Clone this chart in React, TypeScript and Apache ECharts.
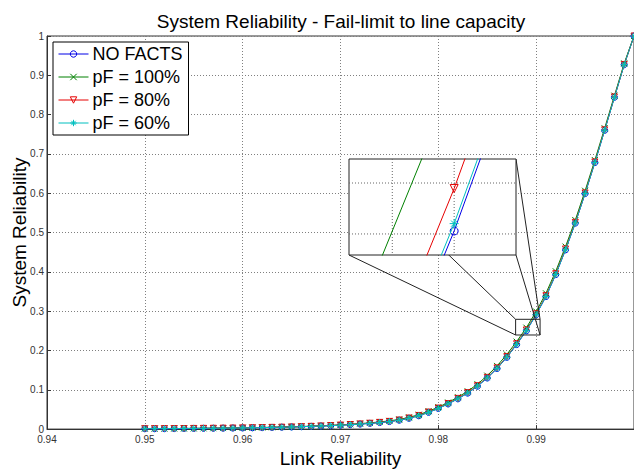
import React, { useEffect, useRef } from "react";
import * as echarts from "echarts";

// ---------------- data ----------------
const LINK_RELIABILITY = [
  0.95, 0.951, 0.952, 0.953, 0.954, 0.955, 0.956, 0.957, 0.958, 0.959,
  0.96, 0.961, 0.962, 0.963, 0.964, 0.965, 0.966, 0.967, 0.968, 0.969,
  0.97, 0.971, 0.972, 0.973, 0.974, 0.975, 0.976, 0.977, 0.978, 0.979,
  0.98, 0.981, 0.982, 0.983, 0.984, 0.985, 0.986, 0.987, 0.988, 0.989,
  0.99, 0.991, 0.992, 0.993, 0.994, 0.995, 0.996, 0.997, 0.998, 0.999,
  1.0,
];

const NO_FACTS = [
  0.0010, 0.0011, 0.0012, 0.0013, 0.0015, 0.0017, 0.0019, 0.0021, 0.0024, 0.0027,
  0.0030, 0.0034, 0.0038, 0.0043, 0.0048, 0.0054, 0.0061, 0.0069, 0.0078, 0.0088,
  0.0100, 0.0113, 0.0128, 0.0146, 0.0167, 0.0192, 0.0226, 0.0275, 0.0340, 0.0425,
  0.0525, 0.0640, 0.0770, 0.0915, 0.1090, 0.1300, 0.1540, 0.1825, 0.2150, 0.2500,
  0.2909, 0.3370, 0.3930, 0.4560, 0.5240, 0.5990, 0.6780, 0.7600, 0.8440, 0.9270,
  1.0000,
];

const PF_100 = [
  0.0011, 0.0012, 0.0013, 0.0014, 0.0016, 0.0018, 0.0020, 0.0023, 0.0026, 0.0029,
  0.0033, 0.0037, 0.0041, 0.0047, 0.0052, 0.0059, 0.0066, 0.0075, 0.0085, 0.0096,
  0.0109, 0.0123, 0.0140, 0.0159, 0.0182, 0.0209, 0.0246, 0.0298, 0.0366, 0.0455,
  0.0558, 0.0677, 0.0812, 0.0963, 0.1143, 0.1360, 0.1607, 0.1898, 0.2225, 0.2581,
  0.2991, 0.3455, 0.4015, 0.4643, 0.5318, 0.6063, 0.6843, 0.7653, 0.8483, 0.9303,
  1.0000,
];

const PF_80 = [
  0.0010, 0.0011, 0.0012, 0.0013, 0.0015, 0.0017, 0.0019, 0.0021, 0.0024, 0.0027,
  0.0031, 0.0035, 0.0039, 0.0044, 0.0049, 0.0055, 0.0062, 0.0070, 0.0080, 0.0090,
  0.0102, 0.0116, 0.0131, 0.0149, 0.0171, 0.0196, 0.0231, 0.0281, 0.0347, 0.0433,
  0.0534, 0.0650, 0.0781, 0.0928, 0.1104, 0.1316, 0.1557, 0.1844, 0.2171, 0.2522,
  0.2932, 0.3393, 0.3953, 0.4582, 0.5260, 0.6008, 0.6796, 0.7613, 0.8450, 0.9276,
  1.0000,
];

const PF_60 = [
  0.0010, 0.0011, 0.0012, 0.0013, 0.0015, 0.0017, 0.0019, 0.0021, 0.0024, 0.0027,
  0.0030, 0.0034, 0.0038, 0.0043, 0.0048, 0.0054, 0.0061, 0.0069, 0.0078, 0.0088,
  0.0100, 0.0113, 0.0128, 0.0146, 0.0167, 0.0193, 0.0227, 0.0276, 0.0341, 0.0426,
  0.0527, 0.0642, 0.0772, 0.0918, 0.1093, 0.1303, 0.1544, 0.1829, 0.2154, 0.2504,
  0.2913, 0.3374, 0.3934, 0.4564, 0.5244, 0.5993, 0.6783, 0.7602, 0.8442, 0.9271,
  1.0000,
];

const SERIES_NAMES = ["NO FACTS", "pF = 100%", "pF = 80%", "pF = 60%"];
const SERIES_VALUES = [NO_FACTS, PF_100, PF_80, PF_60];

const TITLE = "System Reliability - Fail-limit to line capacity";
const X_NAME = "Link Reliability";
const Y_NAME = "System Reliability";

// axis ranges
const X_RANGE = [0.94, 1.0];
const X_STEP = 0.01;
const Y_RANGE = [0, 1];
const Y_STEP = 0.1;

// magnified window shown in the inset, and the marked box in the main plot
const INSET_X = [0.98966, 0.9902];
const INSET_Y = [0.2896, 0.2948];
const INSET_GRID_X = [0.9898, 0.99];
const INSET_GRID_Y = [0.29074, 0.2935];
const ZOOM_BOX_X = [0.9879, 0.9904];
const ZOOM_BOX_Y = [0.2394, 0.2793];

// ---------------- styles ----------------
const COLORS = ["#0000e6", "#008000", "#e60000", "#00bfbf"];
const X_MARK = "path://M0,0L10,10M10,0L0,10";
const STAR = "path://M5,0L5,10M0,5L10,5M1.6,1.6L8.4,8.4M8.4,1.6L1.6,8.4";
const SYMBOLS = ["circle", X_MARK, "triangle", STAR];
const ROTATES = [0, 0, 180, 0];
const FONT = "'Liberation Sans', Arial, Helvetica, sans-serif";

function makeSeries(i: number, gridIdx: number, size: number) {
  const c = COLORS[i];
  const filled = i === 1 || i === 3;
  return {
    type: "line",
    name: SERIES_NAMES[i],
    xAxisIndex: gridIdx,
    yAxisIndex: gridIdx,
    data: LINK_RELIABILITY.map((x, k) => [x, SERIES_VALUES[i][k]]),
    symbol: SYMBOLS[i],
    symbolRotate: ROTATES[i],
    symbolSize: i === 3 ? size + 1 : size,
    showSymbol: true,
    showAllSymbol: true,
    clip: true,
    silent: true,
    z: gridIdx === 0 ? 2 + i * 0.1 : 7 + i * 0.1,
    lineStyle: { color: c, width: 1 },
    itemStyle: {
      color: filled ? c : "rgba(0,0,0,0)",
      borderColor: c,
      borderWidth: 1,
    },
    emphasis: { disabled: true },
  };
}

export default function App() {
  const ref = useRef<HTMLDivElement>(null);

  useEffect(() => {
    if (!ref.current) return;
    const chart = echarts.init(ref.current, undefined, { renderer: "svg" });

    const axisColor = "#333";
    const splitStyle = { type: [1, 2], color: "#808080", width: 1 };

    chart.setOption({
      animation: false,
      backgroundColor: "#fff",
      textStyle: { fontFamily: FONT },
      title: {
        text: TITLE,
        left: 341,
        top: 12,
        textAlign: "center",
        padding: 0,
        textStyle: { fontSize: 19, fontWeight: "normal", color: "#000", fontFamily: FONT },
      },
      legend: {
        data: SERIES_NAMES,
        orient: "vertical",
        left: 53,
        top: 42,
        padding: [3, 6, 3, 5],
        itemGap: 5,
        itemWidth: 30,
        itemHeight: 8,
        backgroundColor: "#fff",
        borderColor: "#000",
        borderWidth: 1,
        borderRadius: 0,
        z: 20,
        selectedMode: false,
        lineStyle: { width: 1 },
        itemStyle: { borderWidth: 1 },
        textStyle: { fontSize: 18, color: "#000", fontFamily: FONT, padding: [0, 0, 0, -1] },
      },
      grid: [
        {
          left: 47,
          top: 36,
          width: 588,
          height: 401,
          show: true,
          borderColor: axisColor,
          borderWidth: 1,
          backgroundColor: "#fff",
          z: 0,
        },
        {
          left: 349,
          top: 159,
          width: 167,
          height: 96,
          show: true,
          borderColor: "#222",
          borderWidth: 1,
          backgroundColor: "#fff",
          z: 5,
        },
      ],
      xAxis: [
        {
          type: "value",
          gridIndex: 0,
          min: X_RANGE[0],
          max: X_RANGE[1],
          interval: X_STEP,
          name: X_NAME,
          nameLocation: "middle",
          nameGap: 19,
          nameTextStyle: { fontSize: 19, color: "#000", fontFamily: FONT },
          axisLine: { lineStyle: { color: axisColor } },
          axisTick: { inside: true, length: 4, lineStyle: { color: axisColor } },
          axisLabel: {
            fontSize: 10,
            color: "#333",
            margin: 5,
            showMaxLabel: false,
            formatter: (v: number) => String(Math.round(v * 100) / 100),
          },
          splitLine: { show: true, lineStyle: splitStyle },
        },
        {
          type: "value",
          gridIndex: 1,
          min: INSET_X[0],
          max: INSET_X[1],
          show: false,
        },
      ],
      yAxis: [
        {
          type: "value",
          gridIndex: 0,
          min: Y_RANGE[0],
          max: Y_RANGE[1],
          interval: Y_STEP,
          axisLine: { show: true, lineStyle: { color: axisColor } },
          axisTick: { show: true, inside: true, length: 4, lineStyle: { color: axisColor } },
          axisLabel: {
            fontSize: 10,
            color: "#333",
            margin: 3,
            formatter: (v: number) => String(Math.round(v * 10) / 10),
          },
          splitLine: { show: true, lineStyle: splitStyle },
        },
        {
          type: "value",
          gridIndex: 1,
          min: INSET_Y[0],
          max: INSET_Y[1],
          show: false,
        },
      ],
      series: [
        ...SERIES_NAMES.map((_, i) => makeSeries(i, 0, 6)),
        ...SERIES_NAMES.map((_, i) => makeSeries(i, 1, 8)),
      ],
    });

    // decorations derived from the chart's own scales
    const px = (g: number, x: number, y: number) =>
      chart.convertToPixel({ xAxisIndex: g, yAxisIndex: g }, [x, y]) as number[];

    const bTL = px(0, ZOOM_BOX_X[0], ZOOM_BOX_Y[1]);
    const bBR = px(0, ZOOM_BOX_X[1], ZOOM_BOX_Y[0]);
    const iTL = px(1, INSET_X[0], INSET_Y[1]);
    const iBR = px(1, INSET_X[1], INSET_Y[0]);
    const mTL = px(0, X_RANGE[0], Y_RANGE[1]);
    const mBR = px(0, X_RANGE[1], Y_RANGE[0]);

    const conn = (a: number[], b: number[]) => ({
      type: "line",
      z: 4,
      silent: true,
      shape: { x1: a[0], y1: a[1], x2: b[0], y2: b[1] },
      style: { stroke: "#222", lineWidth: 1 },
    });

    const insetGrid: any[] = [];
    INSET_GRID_X.forEach((gx) => {
      const p = px(1, gx, INSET_Y[0]);
      insetGrid.push({
        type: "line",
        z: 6,
        silent: true,
        shape: { x1: p[0], y1: iTL[1], x2: p[0], y2: iBR[1] },
        style: { stroke: "#666", lineWidth: 1, lineDash: [1, 2] },
      });
    });
    INSET_GRID_Y.forEach((gy) => {
      const p = px(1, INSET_X[0], gy);
      insetGrid.push({
        type: "line",
        z: 6,
        silent: true,
        shape: { x1: iTL[0], y1: p[1], x2: iBR[0], y2: p[1] },
        style: { stroke: "#666", lineWidth: 1, lineDash: [1, 2] },
      });
    });

    chart.setOption({
      graphic: [
        {
          type: "text",
          z: 10,
          silent: true,
          x: 19,
          y: (mTL[1] + mBR[1]) / 2,
          rotation: Math.PI / 2,
          style: {
            text: Y_NAME,
            align: "center",
            verticalAlign: "middle",
            fontSize: 19,
            fontFamily: FONT,
            fill: "#000",
          },
        },
        {
          type: "rect",
          z: 4,
          silent: true,
          shape: { x: bTL[0], y: bTL[1], width: bBR[0] - bTL[0], height: bBR[1] - bTL[1] },
          style: { fill: "none", stroke: "#222", lineWidth: 1 },
        },
        conn([iTL[0], iTL[1]], [bTL[0], bTL[1]]),
        conn([iTL[0], iBR[1]], [bTL[0], bBR[1]]),
        conn([iBR[0], iTL[1]], [bBR[0], bTL[1]]),
        conn([iBR[0], iBR[1]], [bBR[0], bBR[1]]),
        ...insetGrid,
      ],
    });

    return () => chart.dispose();
  }, []);

  return (
    <div
      ref={ref}
      style={{ position: "absolute", left: 0, top: 0, width: 634, height: 473 }}
    />
  );
}
